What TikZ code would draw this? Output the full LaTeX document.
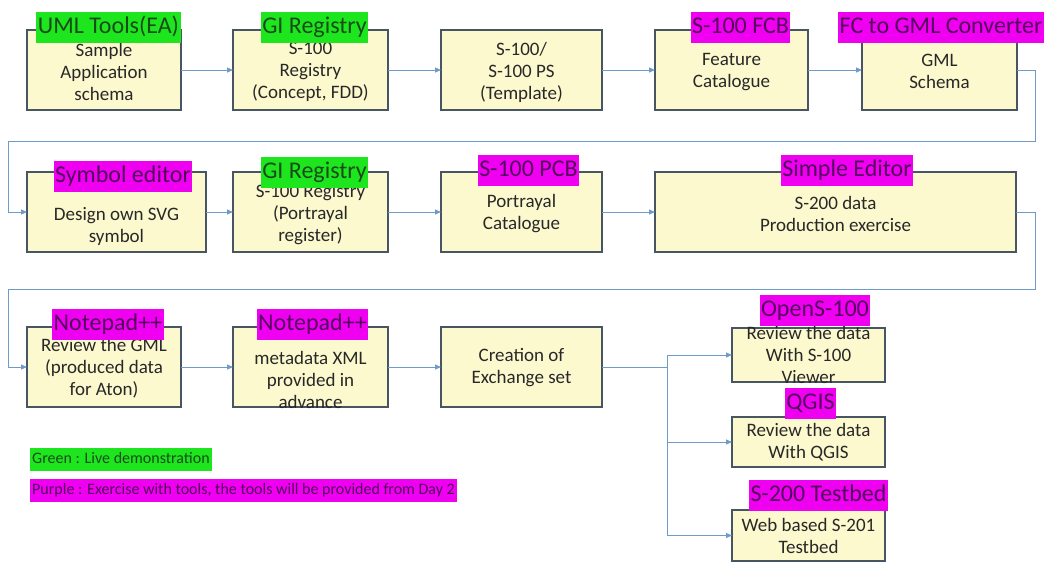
\documentclass[tikz,border=0pt]{standalone}
\usepackage{fontspec}
\setmainfont{Carlito}
\usetikzlibrary{arrows.meta}
\definecolor{boxfill}{RGB}{252,249,207}
\definecolor{boxdraw}{RGB}{72,86,100}
\definecolor{conncol}{RGB}{110,155,200}
\definecolor{lgreen}{RGB}{30,230,30}
\definecolor{lmag}{RGB}{240,0,240}
\definecolor{gtext}{RGB}{25,75,25}
\definecolor{mtext}{RGB}{85,0,95}
\definecolor{btext}{RGB}{40,40,40}
\tikzset{
  box/.style={draw=boxdraw, line width=1.3pt, fill=boxfill, inner sep=0pt, outer sep=0pt, minimum height=80pt},
  txt/.style={align=center, inner sep=0pt, text=btext, font=\fontsize{19}{22}\selectfont},
  lbl/.style={inner xsep=1.5pt, inner ysep=0pt, minimum height=31pt, text height=17pt, text depth=5pt, font=\fontsize{24}{26}\selectfont},
  glbl/.style={lbl, fill=lgreen, text=gtext},
  mlbl/.style={lbl, fill=lmag, text=mtext},
  leg/.style={anchor=west, inner xsep=2pt, inner ysep=0pt, minimum height=23pt, text height=12pt, text depth=4pt, font=\fontsize{16}{18}\selectfont},
  conn/.style={draw=conncol, line width=1pt, -{Triangle[width=5pt,length=6pt]}},
  plain/.style={draw=conncol, line width=1pt}
}
\begin{document}
\begin{tikzpicture}[x=1pt,y=-1pt]
\useasboundingbox[fill=white] (0,0) rectangle (1051,566);
% row 1 boxes
\node[box, minimum width=154pt] (b11) at (104,70) {};
\node[box, minimum width=155pt] (b12) at (310.5,70) {};
\node[box, minimum width=161pt] (b13) at (521.5,70) {};
\node[box, minimum width=153pt] (b14) at (731.5,70) {};
\node[box, minimum width=155pt] (b15) at (939.5,70) {};
% row 2 boxes
\node[box, minimum width=179pt] (b21) at (116.5,212) {};
\node[box, minimum width=155pt] (b22) at (310.5,212) {};
\node[box, minimum width=161pt] (b23) at (521.5,212) {};
\node[box, minimum width=361pt] (b24) at (835.5,212) {};
% row 3 boxes
\node[box, minimum width=154pt] (b31) at (104,367) {};
\node[box, minimum width=155pt] (b32) at (310.5,367) {};
\node[box, minimum width=161pt] (b33) at (521.5,367) {};
% right boxes
\node[box, minimum width=153pt, minimum height=54pt] (bA) at (808.5,355) {};
\node[box, minimum width=153pt, minimum height=50pt] (bB) at (808.5,442) {};
\node[box, minimum width=153pt, minimum height=51pt] (bC) at (808.5,535.5) {};
% texts
\node[txt] (t11) at (104,72) {Sample\\Application\\schema};
\node[txt] (t12) at (310.5,72) {S-100\\Registry\\(Concept, FDD)};
\node[txt] (t13) at (521.5,72) {S-100/\\S-100 PS\\(Template)};
\node[txt] (t14) at (731.5,72) {Feature\\Catalogue};
\node[txt] (t15) at (939.5,71.5) {GML\\Schema};
\node[txt] (t21) at (116.5,226) {Design own SVG\\symbol};
\node[txt] (t22) at (310.5,215) {S-100 Registry\\(Portrayal\\register)};
\node[txt] (t23) at (521.5,213.5) {Portrayal\\Catalogue};
\node[txt] (t24) at (835.5,214) {S-200 data\\Production exercise};
\node[txt] (t31) at (104,368) {Review the GML\\(produced data\\for Aton)};
\node[txt] (t32) at (310.5,379.5) {metadata XML\\provided in\\advance};
\node[txt] (t33) at (521.5,368) {Creation of\\Exchange set};
\node[txt] (tA) at (808.5,355) {Review the data\\With S-100\\Viewer};
\node[txt] (tB) at (808.5,442.5) {Review the data\\With QGIS};
\node[txt] (tC) at (808.5,536) {Web based S-201\\Testbed};
% connectors
\draw[conn] (b11.east) -- (b12.west);
\draw[conn] (b12.east) -- (b13.west);
\draw[conn] (b13.east) -- (b14.west);
\draw[conn] (b14.east) -- (b15.west);
\coordinate (c1) at (1035,141);
\coordinate (c2) at (8,141);
\draw[conn] (b15.east) -| (c1) -- (c2) |- (b21.west);
\draw[conn] (b21.east) -- (b22.west);
\draw[conn] (b22.east) -- (b23.west);
\draw[conn] (b23.east) -- (b24.west);
\coordinate (c3) at (1035,289);
\coordinate (c4) at (8,289);
\draw[conn] (b24.east) -| (c3) -- (c4) |- (b31.west);
\draw[conn] (b31.east) -- (b32.west);
\draw[conn] (b32.east) -- (b33.west);
\coordinate (j) at (667,367);
\draw[plain] (b33.east) -- (j);
\draw[conn] (j) |- (bA.west);
\draw[conn] (j) |- (bB.west);
\draw[conn] (j) |- (bC.west);
% labels
\node[glbl] (l11) at (108.5,27.5) {UML Tools(EA)};
\node[glbl] (l12) at (314.5,27.5) {GI Registry};
\node[mlbl] (l14) at (740.5,27.5) {S-100 FCB};
\node[mlbl, anchor=west] (l15) at (838,27.5) {FC to GML Converter};
\node[mlbl] (l21) at (123,176.5) {Symbol editor};
\node[glbl] (l22) at (314.5,172) {GI Registry};
\node[mlbl] (l23) at (528.5,170.5) {S-100 PCB};
\node[mlbl] (l24) at (847,170.5) {Simple Editor};
\node[mlbl] (l31) at (108,324.5) {Notepad++};
\node[mlbl] (l32) at (312.5,324.5) {Notepad++};
\node[mlbl] (lA) at (815,310.5) {OpenS-100};
\node[mlbl] (lB) at (810.5,403) {QGIS};
\node[mlbl] (lC) at (818.5,495) {S-200 Testbed};
% legend
\node[leg, fill=lgreen, text=gtext] (lg1) at (30,459.5) {Green : Live demonstration};
\node[leg, fill=lmag, text=mtext] (lg2) at (30,490.5) {Purple : Exercise with tools, the tools will be provided from Day 2};
\end{tikzpicture}
\end{document}
